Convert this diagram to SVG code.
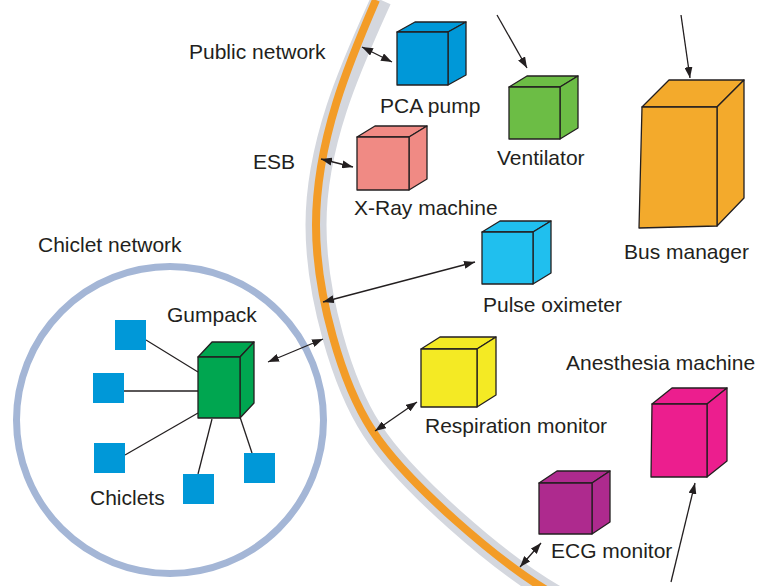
<svg xmlns="http://www.w3.org/2000/svg" width="760" height="586" viewBox="0 0 760 586">
<defs>
<style>
.t{font-family:"Liberation Sans",Arial,sans-serif;font-size:21px;fill:#231f20}
.cube path{stroke:#231f20;stroke-width:1.3;stroke-linejoin:round}
.ln{stroke:#231f20;stroke-width:1.3;fill:none}
.ar{stroke:#231f20;stroke-width:1.3;fill:none;marker-end:url(#ah)}
.dar{stroke:#231f20;stroke-width:1.3;fill:none;marker-end:url(#ah);marker-start:url(#ah)}
.chic{fill:#0098d8}
</style>
<marker id="ah" markerUnits="userSpaceOnUse" markerWidth="12" markerHeight="8" refX="11" refY="4" orient="auto-start-reverse">
<path d="M0,0 L11,4 L0,8 z" fill="#231f20"/>
</marker>
</defs>
<rect width="760" height="586" fill="#ffffff"/>

<g id="bus">
<path d="M381,0 C354,60 316,140 316,225 C316,295 342,384 372,430 C404,480 500,565 560,598" fill="none" stroke="#d4d7de" stroke-width="21"/>
<path d="M376,0 C350,60 316,140 316,225 C316,295 342,384 372,430 C404,480 500,565 560,598" fill="none" stroke="#f39c27" stroke-width="8"/>
</g>

<g id="chiclet-network">
<circle cx="170" cy="420" r="153.5" fill="none" stroke="#a4b6d6" stroke-width="7"/>
<text class="t" x="38" y="252">Chiclet network</text>
</g>

<g id="connectors">
<line class="dar" x1="362" y1="47" x2="392" y2="62"/>
<line class="ar" x1="497" y1="15" x2="527" y2="68"/>
<line class="ar" x1="681" y1="15" x2="690" y2="78"/>
<line class="dar" x1="321" y1="159" x2="353" y2="167"/>
<line class="dar" x1="323" y1="302" x2="475" y2="262"/>
<line class="dar" x1="268" y1="362" x2="323" y2="339"/>
<line class="dar" x1="375" y1="431" x2="417" y2="402"/>
<line class="dar" x1="520" y1="567" x2="541" y2="543"/>
<line class="ar" x1="671" y1="582" x2="695" y2="483"/>
<line class="ln" x1="146" y1="340" x2="198" y2="372"/>
<line class="ln" x1="124" y1="391" x2="198" y2="391"/>
<line class="ln" x1="125" y1="455" x2="198" y2="413"/>
<line class="ln" x1="198" y1="474" x2="212" y2="419"/>
<line class="ln" x1="252" y1="453" x2="240" y2="417"/>
</g>

<g id="public-network"><text class="t" x="189" y="59">Public network</text></g>
<g id="esb"><text class="t" x="253" y="169">ESB</text></g>

<g id="pca-pump" class="cube" fill="#0098d8">
<path d="M397,32 L415,22 L466,22 L448,32 Z"/>
<path d="M448,32 L466,22 L466,75 L448,85 Z"/>
<path d="M397,32 H448 V85 H397 Z"/>
<text class="t" x="380" y="113" stroke="none">PCA pump</text>
</g>

<g id="ventilator" class="cube" fill="#6cbd45">
<path d="M509,87 L527,76 L578,76 L560,87 Z"/>
<path d="M560,87 L578,76 L578,128 L560,139 Z"/>
<path d="M509,87 H560 V139 H509 Z"/>
<text class="t" x="497" y="165" stroke="none">Ventilator</text>
</g>

<g id="bus-manager" class="cube" fill="#f3aa2c">
<path d="M642,107 L669,80 L744,80 L717,107 Z"/>
<path d="M717,107 L744,80 L744,198 L717,226 Z"/>
<path d="M642,107 L717,107 L717,226 L639,228 Z"/>
<text class="t" x="624" y="259" stroke="none">Bus manager</text>
</g>

<g id="x-ray-machine" class="cube" fill="#f08a84">
<path d="M357,137 L375,126 L427,126 L409,137 Z"/>
<path d="M409,137 L427,126 L427,179 L409,190 Z"/>
<path d="M357,137 H409 V190 H357 Z"/>
<text class="t" x="354" y="215" stroke="none">X-Ray machine</text>
</g>

<g id="pulse-oximeter" class="cube" fill="#20bfee">
<path d="M482,232 L500,221 L551,221 L533,232 Z"/>
<path d="M533,232 L551,221 L551,273 L533,284 Z"/>
<path d="M482,232 H533 V284 H482 Z"/>
<text class="t" x="483" y="312" stroke="none">Pulse oximeter</text>
</g>

<g id="respiration-monitor" class="cube" fill="#f4ea24">
<path d="M421,349 L440,337 L496,337 L477,349 Z"/>
<path d="M477,349 L496,337 L496,395 L477,407 Z"/>
<path d="M421,349 H477 V407 H421 Z"/>
<text class="t" x="425" y="433" stroke="none">Respiration monitor</text>
</g>

<g id="gumpack" class="cube" fill="#00a650">
<path d="M198,357 L212,342 L254,342 L240,357 Z"/>
<path d="M240,357 L254,342 L254,403 L240,418 Z"/>
<path d="M198,357 H240 V418 H198 Z"/>
<text class="t" x="167" y="322" stroke="none">Gumpack</text>
</g>

<g id="chiclets">
<rect class="chic" x="115" y="320" width="31" height="30"/>
<rect class="chic" x="93" y="373" width="31" height="30"/>
<rect class="chic" x="94" y="443" width="31" height="30"/>
<rect class="chic" x="183" y="474" width="31" height="30"/>
<rect class="chic" x="244" y="453" width="31" height="30"/>
<text class="t" x="90" y="505">Chiclets</text>
</g>

<g id="anesthesia-machine" class="cube" fill="#ec1e8e">
<path d="M652,404 L672,388 L727,388 L707,404 Z"/>
<path d="M707,404 L727,388 L727,461 L707,477 Z"/>
<path d="M652,404 H707 V477 H651 Z"/>
<text class="t" x="566" y="370" stroke="none">Anesthesia machine</text>
</g>

<g id="ecg-monitor" class="cube" fill="#ae2a8e">
<path d="M539,483 L557,471 L610,471 L592,483 Z"/>
<path d="M592,483 L610,471 L610,522 L592,534 Z"/>
<path d="M539,483 H592 V534 H539 Z"/>
<text class="t" x="551" y="558" stroke="none">ECG monitor</text>
</g>
</svg>
